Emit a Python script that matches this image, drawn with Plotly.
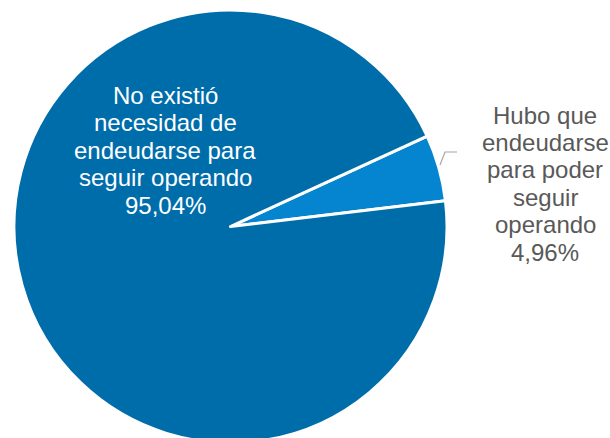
import plotly.graph_objects as go

categories = ["Hubo que endeudarse para poder seguir operando",
              "No existió necesidad de endeudarse para seguir operando"]
values = [4.96, 95.04]
colors = ["#0585CF", "#006DAB"]

big_lines = ["No existió", "necesidad de", "endeudarse para", "seguir operando", "95,04%"]
small_lines = ["Hubo que", "endeudarse", "para poder", "seguir", "operando", "4,96%"]

W, H = 610, 443  # a few px taller than the window: the pie bottom is cropped as in the reference

fig = go.Figure(go.Pie(
    labels=categories,
    values=values,
    sort=False,
    direction="clockwise",
    rotation=65.3,
    marker=dict(colors=colors, line=dict(color="white", width=3)),
    textinfo="none",
    hoverinfo="label+percent",
    domain=dict(x=[14 / W, 447 / W], y=[0, 1 - 10 / H]),
    showlegend=False,
))

annotations = []
for i, t in enumerate(big_lines):
    py = 95 + i * 27.6
    annotations.append(dict(x=165 / W, y=1 - py / H, xref="paper", yref="paper",
                            text=t, showarrow=False, xanchor="center", yanchor="middle",
                            font=dict(family="Liberation Sans, Arial", size=24, color="white")))
for i, t in enumerate(small_lines):
    py = 115 + i * 27.4
    annotations.append(dict(x=545 / W, y=1 - py / H, xref="paper", yref="paper",
                            text=t, showarrow=False, xanchor="center", yanchor="middle",
                            font=dict(family="Liberation Sans, Arial", size=24, color="#595959")))

fig.update_layout(
    width=W, height=H,
    margin=dict(l=0, r=0, t=0, b=0),
    paper_bgcolor="white",
    plot_bgcolor="white",
    annotations=annotations,
    shapes=[dict(type="path", xref="paper", yref="paper",
                 path=f"M {440/W},{1-165/H} L {445/W},{1-152/H} L {457/W},{1-152/H}",
                 line=dict(color="#A6A6A6", width=1.2))],
)

fig.write_html("out.html",
               config={"displayModeBar": False},
               post_script="document.body.style.margin='0';document.body.style.overflow='hidden';")
